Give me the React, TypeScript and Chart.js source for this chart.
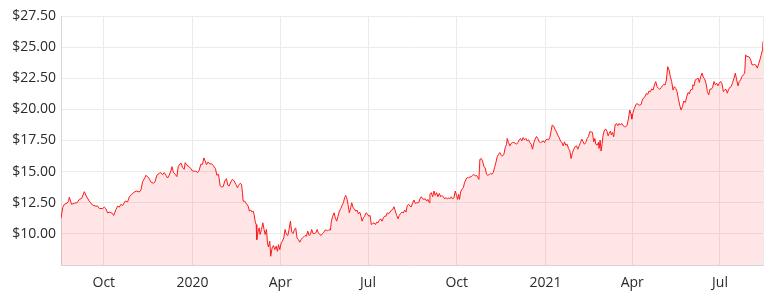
import React, { useEffect, useRef } from 'react';
import { Chart, registerables } from 'chart.js';

Chart.register(...registerables);

const START_DATE = '2019-08-16';

// Day offsets (calendar days after START_DATE) of each closing price
const DAY_OFFSETS: number[] = [
  1.6, 3.3, 5.0, 7.8, 9.5, 10.2, 12.6, 15.4, 18.2, 20.6, 23.0, 25.8, 27.8, 30.9, 34.4, 37.8, 39.6, 41.3, 44.8, 46.5, 48.2, 49.9, 52.3, 55.1, 56.2, 58.6, 60.3, 62.0, 63.7, 65.5, 68.2, 70.7, 72.4, 74.8, 77.6, 80.3, 82.7, 84.5, 86.2, 88.6, 89.6,
  91.4, 93.1, 94.8, 97.6, 99.0, 101.0, 103.5, 105.2, 106.9, 108.6, 110.4, 112.1, 113.8, 115.5, 116.6, 118.3, 120.0, 121.8, 123.1, 124.9, 126.3, 127.6, 129.4, 130.4, 132.1, 134.5, 136.3, 138.0, 139.7, 141.4, 143.2, 144.9, 146.6, 148.4, 149.7, 151.1, 152.5, 154.2, 155.9, 157.7, 159.8, 161.8, 163.2, 164.9, 166.7, 168.0, 169.8, 171.5, 173.2, 174.6, 176.0, 177.7, 179.4, 181.2, 182.9,
  184.6, 185.7, 187.4, 188.8, 189.8, 190.5, 192.2, 193.9, 195.7, 197.0, 198.4, 199.8, 200.8, 201.9, 202.9, 204.0, 204.6, 206.0, 207.1, 208.1, 209.5, 210.9, 212.2, 213.3, 214.7, 215.7, 216.7, 218.1, 219.1, 220.5, 221.9, 223.3, 224.7, 226.1, 227.1, 228.5, 229.9, 231.2, 232.6, 234.0, 235.4, 236.8, 238.1, 239.5, 240.9, 242.3, 243.7, 245.0, 246.4, 247.8, 249.2, 250.6, 252.0, 253.3, 254.7, 256.1, 257.5, 258.9, 260.2, 261.6, 263.0, 264.4, 265.8, 267.2, 268.5, 269.9, 271.3, 272.7, 274.1, 275.4, 276.8, 278.2, 279.6, 281.0,
  282.0, 283.4, 284.8, 286.1, 287.5, 288.9, 290.3, 291.7, 293.1, 294.4, 295.8, 296.8, 297.9, 299.3, 300.6, 302.0, 303.1, 304.5, 305.8, 307.2, 308.6, 310.0, 311.4, 312.7, 313.8, 315.2, 316.5, 317.9, 319.3, 320.7, 322.1, 323.4, 324.8, 326.2, 327.6, 329.0, 330.3, 331.7, 333.1, 334.5, 335.9, 337.2, 338.6, 340.0, 341.4, 342.8, 344.2, 345.5, 346.9, 348.3, 349.7, 351.1, 352.4, 353.8, 355.2, 356.6, 358.0, 359.4, 360.7, 362.1, 363.5, 364.9, 366.3, 367.6, 369.0, 370.4,
  372.5, 373.9, 375.2, 376.6, 378.0, 379.4, 380.8, 382.1, 383.5, 384.2, 385.6, 387.0, 388.4, 389.7, 391.1, 392.5, 393.9, 395.3, 396.7, 398.0, 399.4, 400.8, 402.2, 403.6, 404.9, 406.3, 407.7, 409.1, 410.5, 411.8, 412.9, 413.9, 414.9, 416.0, 417.4, 418.8, 420.1, 421.5, 422.9, 424.3, 425.7, 427.0, 428.4, 429.8, 431.2, 432.6, 434.0, 435.0, 436.0, 437.4, 438.8, 440.2, 441.5, 442.9, 444.3, 445.7, 447.1, 448.5, 449.8, 451.2, 452.6, 454.0, 455.4, 456.7, 458.1, 459.5, 460.9, 462.3, 463.7,
  464.3, 465.7, 467.1, 468.5, 469.9, 471.2, 472.6, 474.0, 475.4, 476.8, 478.1, 479.5, 480.9, 482.3, 483.7, 485.1, 486.4, 487.8, 489.2, 490.6, 492.0, 493.3, 494.7, 496.1, 497.5, 498.9, 500.2, 501.6, 503.0, 504.4, 505.8, 507.2, 508.5, 509.9, 511.0, 512.7, 514.1, 515.4, 516.8, 518.2, 519.6, 521.0, 522.4, 523.7, 525.1, 526.5, 527.9, 529.3, 530.6, 532.0, 533.4, 534.8, 536.2, 537.5, 538.9, 540.3, 541.7, 543.1, 544.4, 545.8, 547.2, 548.6, 550.0, 551.4, 552.7, 554.1, 555.2, 556.2,
  557.6, 559.0, 559.6, 560.7, 561.7, 562.8, 563.8, 565.2, 566.6, 568.0, 569.0, 570.0, 571.4, 572.4, 573.5, 574.8, 576.2, 577.6, 579.0, 580.4, 581.7, 583.1, 584.5, 585.9, 587.3, 588.7, 590.0, 591.4, 592.8, 593.5, 594.9, 596.2, 597.6, 599.0, 600.4, 601.8, 603.2, 604.5, 605.9, 607.3, 608.7, 610.1, 611.4, 612.8, 614.2, 615.6, 617.0, 618.4, 619.7, 621.1, 622.5, 623.9, 625.3, 626.6, 628.0, 629.4, 630.8, 632.2, 633.5, 634.9, 636.3, 637.7, 639.1, 640.5, 641.8, 643.2, 644.6, 646.0, 647.4,
  649.1, 650.5, 651.9, 653.2, 654.6, 656.0, 656.7, 658.1, 659.4, 660.8, 662.2, 663.6, 665.0, 666.4, 667.7, 669.1, 670.5, 671.9, 673.3, 674.6, 676.0, 677.4, 678.8, 680.2, 681.6, 682.9, 684.3, 685.7, 687.1, 688.5, 689.8, 691.2, 692.6, 694.0, 695.4, 696.7, 698.1, 699.5, 700.9, 702.3, 703.7, 705.0, 706.4, 707.8, 709.2, 710.6, 711.6, 712.6, 714.0, 715.4, 716.8, 718.2, 719.5, 720.9, 722.3, 723.7, 725.1, 726.4, 727.8, 729.2, 729.6,
];

// Closing prices ($)
const PRICES: number[] = [
  11.24, 12.10, 12.37, 12.47, 12.63, 12.96, 12.37, 12.47, 12.50, 12.77, 12.85, 13.39, 13.04, 12.63, 12.31, 12.23, 12.23, 12.04, 12.04, 12.15, 12.02, 11.69, 11.75, 11.64, 11.48, 11.96, 12.23, 12.15, 12.37, 12.28, 12.63, 12.58, 12.96, 13.17, 13.36, 13.44, 13.36, 13.52, 14.19, 14.52, 14.70,
  14.60, 14.44, 14.17, 14.06, 14.17, 14.71, 14.87, 14.92, 14.76, 14.92, 14.71, 14.49, 14.71, 15.05, 15.40, 14.92, 14.79, 14.60, 15.40, 15.61, 15.67, 15.35, 15.19, 15.72, 15.51, 15.40, 15.24, 15.05, 15.03, 15.05, 14.92, 15.11, 15.59, 15.59, 16.10, 15.86, 15.56, 15.78, 15.61, 15.64, 15.45, 15.24, 14.71, 14.79, 13.85, 13.77, 13.80, 14.25, 14.44, 13.90, 13.85, 14.17, 14.39, 14.25, 13.98,
  13.71, 13.90, 14.06, 13.98, 13.31, 12.63, 12.63, 12.42, 12.23, 11.83, 11.91, 11.75, 11.83, 11.56, 11.02, 10.75, 9.54, 10.22, 10.48, 9.95, 10.35, 10.89, 10.35, 9.95, 10.35, 9.27, 8.95, 9.41, 8.20, 8.87, 9.06, 8.74, 9.01, 8.60, 9.14, 8.74, 9.27, 9.41, 9.68, 10.35, 9.95, 9.87, 10.35, 11.02, 10.13, 10.03, 10.35, 10.48, 9.68, 9.54, 9.33, 9.54, 9.68, 9.76, 9.87, 9.81, 10.22, 9.87, 9.95, 10.35, 10.03, 10.03, 10.08, 10.35, 10.08, 9.95, 9.87, 10.03, 10.13, 10.30, 10.30, 10.24, 10.35, 10.30,
  11.02, 11.42, 11.69, 11.29, 11.02, 11.42, 11.83, 12.02, 12.28, 12.50, 12.90, 13.09, 12.90, 12.37, 11.69, 12.10, 12.50, 12.10, 12.02, 11.83, 11.91, 11.61, 11.75, 11.42, 11.02, 11.29, 11.42, 11.69, 11.61, 11.42, 11.48, 10.75, 10.83, 10.89, 10.75, 10.94, 10.89, 11.10, 11.21, 11.02, 11.29, 11.42, 11.42, 11.69, 11.61, 11.75, 11.91, 11.96, 12.18, 11.83, 11.48, 11.21, 11.48, 11.64, 11.75, 11.69, 11.91, 11.75, 12.28, 12.37, 12.23, 12.18, 12.50, 12.72, 12.45, 12.50,
  12.50, 12.82, 12.98, 12.82, 12.77, 12.82, 12.63, 12.77, 12.50, 13.17, 13.31, 12.98, 13.44, 13.09, 13.31, 12.98, 13.25, 12.98, 13.09, 12.98, 12.82, 12.90, 12.82, 12.88, 12.82, 12.98, 12.82, 12.90, 13.44, 13.09, 12.77, 13.17, 12.77, 13.36, 13.58, 13.71, 14.11, 14.38, 14.52, 14.52, 14.57, 14.60, 14.70, 14.78, 14.65, 14.70, 14.52, 14.38, 15.99, 16.05, 15.86, 15.40, 15.32, 14.78, 14.70, 14.78, 14.87, 14.78, 14.92, 15.32, 15.73, 16.21, 16.40, 16.53, 16.32, 16.26, 16.40, 16.94, 17.20,
  17.66, 17.34, 17.07, 17.28, 17.34, 17.34, 17.28, 17.20, 17.34, 17.55, 17.66, 17.47, 17.74, 17.55, 17.66, 17.47, 17.55, 17.34, 17.20, 16.80, 17.34, 17.61, 17.82, 17.66, 17.39, 17.34, 17.39, 17.47, 17.34, 17.55, 17.61, 17.55, 17.74, 18.28, 18.74, 18.63, 18.36, 18.20, 17.93, 17.74, 17.47, 17.34, 17.07, 17.39, 17.12, 17.20, 16.85, 16.67, 16.05, 16.53, 16.80, 17.02, 17.07, 16.80, 17.07, 17.34, 17.61, 17.39, 17.20, 17.34, 17.66, 17.82, 18.20, 18.20, 18.15, 17.39, 17.66, 17.20,
  17.13, 17.35, 16.86, 17.53, 16.65, 17.27, 17.94, 18.34, 18.42, 18.20, 17.88, 18.07, 18.26, 17.94, 18.15, 17.80, 18.74, 18.87, 18.69, 18.87, 18.74, 18.87, 18.69, 18.61, 18.61, 18.74, 19.22, 19.95, 19.60, 19.22, 19.76, 20.08, 20.35, 20.48, 20.35, 20.35, 20.40, 20.75, 20.94, 21.02, 21.29, 21.21, 21.47, 21.42, 21.64, 21.55, 21.96, 22.23, 21.82, 21.69, 21.61, 21.74, 21.90, 22.01, 21.96, 22.36, 23.43, 23.16, 22.63, 22.23, 21.55, 21.82, 21.69, 21.42, 20.88, 20.35, 19.95, 20.21, 20.67,
  20.55, 21.03, 21.35, 21.25, 21.57, 21.62, 21.97, 21.89, 22.37, 22.43, 22.51, 22.16, 22.64, 22.91, 22.59, 22.43, 22.10, 21.43, 21.17, 21.62, 21.62, 21.78, 22.24, 21.97, 22.10, 21.89, 22.10, 22.24, 22.05, 21.43, 21.57, 21.62, 21.30, 21.62, 21.78, 21.84, 22.16, 22.51, 22.91, 22.37, 21.89, 22.24, 22.37, 22.64, 22.77, 22.91, 24.38, 24.25, 24.25, 24.20, 23.98, 23.58, 23.58, 23.61, 23.55, 23.31, 23.66, 23.98, 24.38, 24.84, 25.46,
];

const TICK_DATES: string[] = ['2019-10-01', '2020-01-01', '2020-04-01', '2020-07-01', '2020-10-01', '2021-01-01', '2021-04-01', '2021-07-01'];
const TICK_LABELS: string[] = ['Oct', '2020', 'Apr', 'Jul', 'Oct', '2021', 'Apr', 'Jul'];

const Y_MIN = 7.5;
const Y_MAX = 27.5;
const Y_STEP = 2.5;

const DAY_MS = 86400000;
const toDay = (iso: string) =>
  (Date.parse(iso + 'T00:00:00Z') - Date.parse(START_DATE + 'T00:00:00Z')) / DAY_MS;

export default function App() {
  const canvasRef = useRef<HTMLCanvasElement | null>(null);

  useEffect(() => {
    const canvas = canvasRef.current;
    if (!canvas) return;
    const n = Math.min(DAY_OFFSETS.length, PRICES.length);
    const points = [] as { x: number; y: number }[];
    for (let i = 0; i < n; i++) points.push({ x: DAY_OFFSETS[i], y: PRICES[i] });
    const tickDays = TICK_DATES.map(toDay);
    const xMin = DAY_OFFSETS[0];
    const xMax = DAY_OFFSETS[n - 1];

    Chart.defaults.font.family = "'Open Sans', sans-serif";

    const chart = new Chart(canvas, {
      type: 'line',
      data: {
        datasets: [
          {
            data: points,
            borderColor: 'rgb(255, 24, 24)',
            backgroundColor: 'rgba(255, 0, 0, 0.1)',
            borderWidth: 1,
            fill: 'start',
            pointRadius: 0,
            tension: 0,
          },
        ],
      },
      options: {
        animation: false,
        responsive: true,
        maintainAspectRatio: false,
        devicePixelRatio: 1,
        layout: { padding: { top: 16, right: 9, bottom: 0, left: 0 } },
        plugins: { legend: { display: false }, tooltip: { enabled: false } },
        scales: {
          x: {
            type: 'linear',
            min: xMin,
            max: xMax,
            afterBuildTicks: (scale: any) => {
              scale.ticks = [...tickDays.map((v) => ({ value: v })), { value: xMax }];
            },
            afterFit: (scale: any) => {
              scale.height = 33;
            },
            ticks: {
              autoSkip: false,
              maxRotation: 0,
              padding: 10,
              color: '#2b2b2b',
              font: { size: 14 },
              callback: (_v: any, index: number) => (index < TICK_LABELS.length ? TICK_LABELS[index] : ''),
            },
            grid: { color: '#ebebeb', drawTicks: false },
            border: { color: '#d6d6d6' },
          },
          y: {
            min: Y_MIN,
            max: Y_MAX,
            afterFit: (scale: any) => {
              scale.width = 61;
            },
            ticks: {
              stepSize: Y_STEP,
              padding: 5,
              color: '#2b2b2b',
              font: { size: 14 },
              callback: (v: any) => (Number(v) <= Y_MIN ? '' : '$' + Number(v).toFixed(2)),
            },
            grid: { color: '#ebebeb', drawTicks: false },
            border: { color: '#d6d6d6' },
          },
        },
      },
    });
    return () => chart.destroy();
  }, []);

  return (
    <div style={{ position: 'absolute', left: 0, top: 0, width: 773, height: 298, background: '#fff' }}>
      <canvas ref={canvasRef} />
    </div>
  );
}
